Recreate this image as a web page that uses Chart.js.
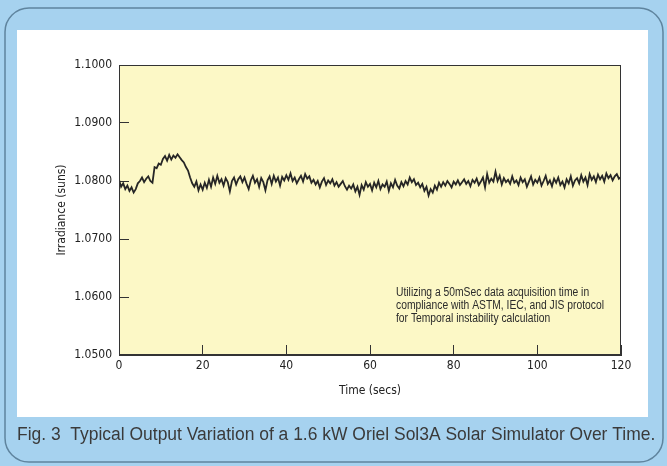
<!DOCTYPE html>
<html>
<head>
<meta charset="utf-8">
<script src="https://cdn.jsdelivr.net/npm/chart.js@4.4.1/dist/chart.umd.min.js"></script>
<style>
html,body{margin:0;padding:0;background:#a8d2ee}
#wrap{width:667px;height:466px}
</style>
</head>
<body>
<div id="wrap"><canvas id="chart" width="667" height="466"></canvas></div>
<script>
// readings, one every half second
const sampleStep=0.5
const irradiance=[
1.0802,1.0790,1.0796,1.0786,1.0792,1.0783,1.0789,1.0780,1.0786,1.0796,
1.0800,1.0806,1.0798,1.0804,1.0808,1.0800,1.0797,1.0824,1.0822,1.0830,
1.0828,1.0838,1.0843,1.0835,1.0845,1.0837,1.0844,1.0840,1.0846,1.0841,
1.0836,1.0832,1.0824,1.0818,1.0806,1.0796,1.0790,1.0799,1.0784,1.0794,
1.0785,1.0797,1.0788,1.0802,1.0790,1.0806,1.0795,1.0809,1.0797,1.0803,
1.0792,1.0805,1.0798,1.0782,1.0800,1.0806,1.0794,1.0803,1.0808,1.0798,
1.0806,1.0795,1.0786,1.0801,1.0809,1.0797,1.0803,1.0790,1.0805,1.0798,
1.0784,1.0801,1.0808,1.0795,1.0809,1.0799,1.0806,1.0792,1.0807,1.0801,
1.0810,1.0802,1.0813,1.0800,1.0806,1.0796,1.0803,1.0809,1.0799,1.0812,
1.0804,1.0808,1.0797,1.0802,1.0794,1.0800,1.0789,1.0799,1.0805,1.0793,
1.0801,1.0796,1.0803,1.0792,1.0798,1.0790,1.0795,1.0800,1.0791,1.0785,
1.0792,1.0787,1.0794,1.0782,1.0790,1.0776,1.0793,1.0785,1.0798,1.0790,
1.0795,1.0784,1.0797,1.0789,1.0800,1.0786,1.0794,1.0790,1.0799,1.0783,
1.0796,1.0789,1.0802,1.0792,1.0787,1.0798,1.0791,1.0800,1.0794,1.0806,
1.0798,1.0803,1.0793,1.0797,1.0789,1.0795,1.0783,1.0790,1.0775,1.0786,
1.0780,1.0792,1.0785,1.0797,1.0790,1.0798,1.0792,1.0800,1.0795,1.0789,
1.0799,1.0794,1.0801,1.0793,1.0798,1.0803,1.0795,1.0800,1.0791,1.0802,
1.0797,1.0804,1.0793,1.0799,1.0806,1.0789,1.0812,1.0797,1.0804,1.0799,
1.0816,1.0800,1.0809,1.0794,1.0805,1.0798,1.0802,1.0795,1.0808,1.0797,
1.0801,1.0793,1.0806,1.0798,1.0803,1.0790,1.0799,1.0808,1.0794,1.0802,
1.0797,1.0806,1.0792,1.0800,1.0809,1.0795,1.0801,1.0791,1.0804,1.0797,
1.0806,1.0793,1.0799,1.0789,1.0803,1.0796,1.0808,1.0792,1.0801,1.0805,
1.0796,1.0810,1.0799,1.0806,1.0793,1.0812,1.0802,1.0808,1.0798,1.0811,
1.0803,1.0809,1.0799,1.0813,1.0805,1.0810,1.0801,1.0808,1.0812,1.0804,
1.0807
]
const yTicks=[1.05,1.06,1.07,1.08,1.09,1.10]
const xTicks=[0,20,40,60,80,100,120]

const noteLines=[
"Utilizing a 50mSec data acquisition time in",
"compliance with ASTM, IEC, and JIS protocol",
"for Temporal instability calculation"
]
const caption="Fig. 3  Typical Output Variation of a 1.6 kW Oriel Sol3A Solar Simulator Over Time."

const narrow="'Liberation Sans Narrow','DejaVu Sans Condensed','Liberation Sans',sans-serif"

let points=irradiance.map((v,i)=>({x:i*sampleStep,y:v}))

function roundRect(ctx,x,y,w,h,r){
ctx.beginPath()
ctx.moveTo(x+r,y)
ctx.arcTo(x+w,y,x+w,y+h,r)
ctx.arcTo(x+w,y+h,x,y+h,r)
ctx.arcTo(x,y+h,x,y,r)
ctx.arcTo(x,y,x+w,y,r)
ctx.closePath()
}

const framePlugin={
id:"frame",
beforeDraw(chart){
const ctx=chart.ctx
const a=chart.chartArea
ctx.save()
ctx.fillStyle="#a6d2ef"
ctx.fillRect(0,0,chart.width,chart.height)
roundRect(ctx,5,8,658,454,24)
ctx.strokeStyle="#5f849e"
ctx.lineWidth=1.5
ctx.stroke()
ctx.fillStyle="#ffffff"
ctx.fillRect(17,30,631,387)
ctx.fillStyle="#fcf8c6"
ctx.fillRect(a.left,a.top,a.right-a.left,a.bottom-a.top)
ctx.restore()
},
afterDraw(chart){
const ctx=chart.ctx
const a=chart.chartArea
ctx.save()
ctx.strokeStyle="#333"
ctx.lineWidth=1
ctx.strokeRect(a.left+0.5,a.top+0.5,a.right-a.left-1,a.bottom-a.top-1)

// note text, squeezed to the narrow face of the original
ctx.fillStyle="#2b2b2b"
ctx.font="12px 'Liberation Sans',Arial,sans-serif"
ctx.textBaseline="middle"
let squeeze=208/ctx.measureText(noteLines[1]).width
noteLines.forEach((t,i)=>{
ctx.fillText(t,396,293+i*13,ctx.measureText(t).width*squeeze)
})

ctx.fillStyle="#3a3a3a"
ctx.font="15px 'Liberation Sans',Arial,sans-serif"
let w=ctx.measureText(caption).width
let size=15*639/w
ctx.font=size.toFixed(2)+"px 'Liberation Sans',Arial,sans-serif"
ctx.fillText(caption,17,435)
ctx.restore()
}
}

chart=new Chart(document.getElementById("chart"),{
type:"line",
data:{
datasets:[{
label:"Irradiance",
data:points,
borderColor:"#262626",
borderWidth:1.8,
pointRadius:0,
tension:0,
fill:false
}]
},
options:{
responsive:false,
animation:false,
layout:{padding:{left:55,top:65,right:46,bottom:66}},
plugins:{legend:{display:false},tooltip:{enabled:false}},
scales:{
x:{
type:"linear",
min:0,max:120,
afterBuildTicks:s=>{s.ticks=xTicks.map(v=>({value:v}))},
afterFit:s=>{s.height=45},
grid:{drawOnChartArea:false,tickLength:-10,color:"#333"},
border:{color:"#333"},
ticks:{padding:14,color:"#222",font:{family:narrow,size:12}},
title:{display:true,text:"Time (secs)",color:"#222",font:{family:narrow,size:12},padding:{top:0,bottom:2}}
},
y:{
type:"linear",
min:1.05,max:1.10,
afterBuildTicks:s=>{s.ticks=yTicks.map(v=>({value:v}))},
afterFit:s=>{s.width=64},
grid:{drawOnChartArea:false,tickLength:-10,color:"#333"},
border:{color:"#333"},
ticks:{padding:17,color:"#222",font:{family:narrow,size:12},callback:v=>v.toFixed(4)},
title:{display:true,text:"Irradiance (suns)",color:"#222",font:{family:narrow,size:12},padding:{top:0,bottom:0}}
}
}
},
plugins:[framePlugin]
})
</script>
</body>
</html>
